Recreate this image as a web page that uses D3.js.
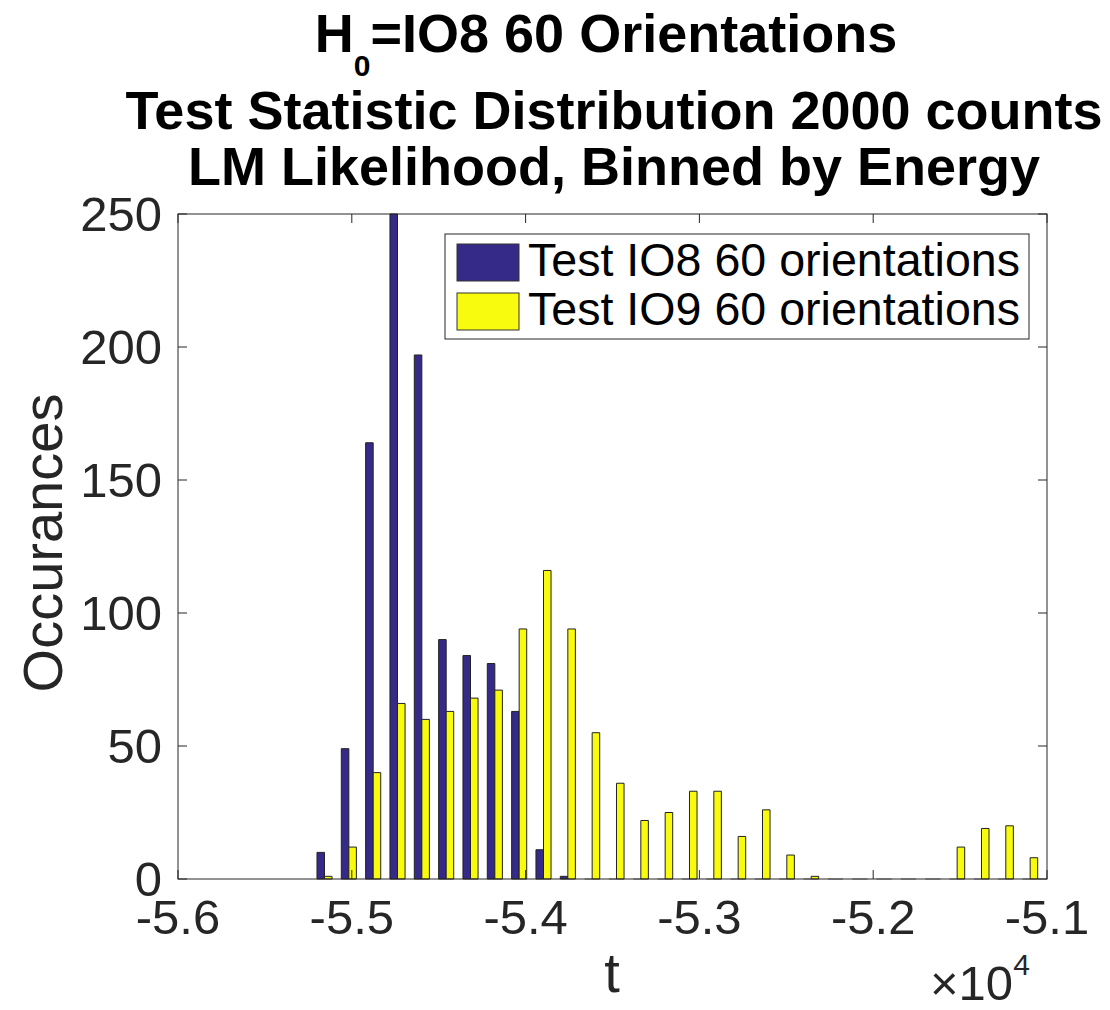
<!DOCTYPE html>
<html>
<head>
<meta charset="utf-8">
<script src="https://cdn.jsdelivr.net/npm/d3@7"></script>
<style>
  html, body { margin: 0; padding: 0; background: #fff; }
  svg { display: block; font-family: "Liberation Sans", Arial, Helvetica, sans-serif; }
</style>
</head>
<body>
<svg id="chart" width="1110" height="1010"></svg>
<script>
// Histogram bin centres (t, in units of 1e4)
const binCenters = [
  -5.5157, -5.5017, -5.4877, -5.4737, -5.4597, -5.4457, -5.4317, -5.4177, -5.4037, -5.3897,
  -5.3757, -5.3617, -5.3477, -5.3337, -5.3197, -5.3057, -5.2917, -5.2777, -5.2637, -5.2497,
  -5.2357, -5.2217, -5.2077, -5.1937, -5.1797, -5.1657, -5.1517, -5.1377, -5.1237, -5.1097
];
// Counts per bin, IO8 test orientations
const countsIO8 = [
  10, 49, 164, 250, 197, 90, 84, 81, 63, 11,
  1, 0, 0, 0, 0, 0, 0, 0, 0, 0,
  0, 0, 0, 0, 0, 0, 0, 0, 0, 0
];
// Counts per bin, IO9 test orientations
const countsIO9 = [
  1, 12, 40, 66, 60, 63, 68, 71, 94, 116,
  94, 55, 36, 22, 25, 33, 33, 16, 26, 9,
  1, 0, 0, 0, 0, 0, 12, 19, 20, 8
];
const seriesNames = ["Test IO8 60 orientations", "Test IO9 60 orientations"];
const seriesColors = ["#352a87", "#f9fb0e"];
const xTicks = [-5.6, -5.5, -5.4, -5.3, -5.2, -5.1];
const yTicks = [0, 50, 100, 150, 200, 250];
const titleLines = ["Test Statistic Distribution 2000 counts", "LM Likelihood, Binned by Energy"];

const svg = d3.select("#chart");
const m = { left: 178, right: 1047, top: 214, bottom: 879 };
const axisColor = "#262626";

const x = d3.scaleLinear().domain([-5.6, -5.1]).range([m.left, m.right]);
const y = d3.scaleLinear().domain([0, 250]).range([m.bottom, m.top]);

// Bars: each bin holds two side-by-side bars
const step = x(binCenters[1]) - x(binCenters[0]);
const barW = step * 0.31;
const series = [countsIO8, countsIO9];
const barsG = svg.append("g");
series.forEach((vals, si) => {
  barsG.selectAll(null)
    .data(binCenters.map((c, i) => ({ c, v: vals[i] })))
    .enter().append("path")
    .attr("d", d => {
      const x0 = si === 0 ? x(d.c) - barW : x(d.c);
      const x1 = x0 + barW;
      const y0 = y(0), y1 = y(d.v);
      return `M${x0},${y0}V${y1}H${x1}V${y0}Z`;
    })
    .attr("fill", seriesColors[si])
    .attr("stroke", d => d.v === 0 ? "#a0a0a0" : "#222")
    .attr("stroke-width", 1);
});

// Axes box
svg.append("rect")
  .attr("x", m.left).attr("y", m.top)
  .attr("width", m.right - m.left).attr("height", m.bottom - m.top)
  .attr("fill", "none").attr("stroke", axisColor).attr("stroke-width", 1);

const tickLen = 9;
const ticksG = svg.append("g").attr("stroke", axisColor).attr("stroke-width", 1);
xTicks.forEach(t => {
  ticksG.append("line").attr("x1", x(t)).attr("x2", x(t)).attr("y1", m.bottom).attr("y2", m.bottom - tickLen);
  ticksG.append("line").attr("x1", x(t)).attr("x2", x(t)).attr("y1", m.top).attr("y2", m.top + tickLen);
});
yTicks.forEach(t => {
  ticksG.append("line").attr("x1", m.left).attr("x2", m.left + tickLen).attr("y1", y(t)).attr("y2", y(t));
  ticksG.append("line").attr("x1", m.right).attr("x2", m.right - tickLen).attr("y1", y(t)).attr("y2", y(t));
});

// Tick labels
svg.append("g").selectAll("text").data(xTicks).enter().append("text")
  .attr("x", d => x(d)).attr("y", 934)
  .attr("text-anchor", "middle").attr("font-size", 49).attr("fill", axisColor)
  .text(d => d3.format(".1f")(d).replace("−", "-"));
svg.append("g").selectAll("text").data(yTicks).enter().append("text")
  .attr("x", m.left - 16).attr("y", d => y(d)).attr("dy", "0.35em")
  .attr("text-anchor", "end").attr("font-size", 49).attr("fill", axisColor)
  .text(d => d);

// Exponent multiplier
const mult = svg.append("text").attr("x", 930).attr("y", 1000)
  .attr("font-size", 49).attr("fill", axisColor);
mult.append("tspan").text("×10");
mult.append("tspan").attr("font-size", 30).attr("dy", -25).text("4");

// Axis labels
svg.append("text").attr("x", 612).attr("y", 992)
  .attr("text-anchor", "middle").attr("font-size", 56).attr("fill", axisColor).text("t");
svg.append("text").attr("transform", "translate(62,543) rotate(-90)")
  .attr("text-anchor", "middle").attr("font-size", 56).attr("fill", axisColor).text("Occurances");

// Title
const t1 = svg.append("text").attr("x", 606).attr("y", 52)
  .attr("text-anchor", "middle").attr("font-size", 54).attr("font-weight", "bold").attr("fill", "#000");
t1.append("tspan").text("H");
t1.append("tspan").attr("font-size", 30).attr("dy", 24).text("0");
t1.append("tspan").attr("dy", -24).text("=IO8 60 Orientations");
titleLines.forEach((line, i) => {
  svg.append("text").attr("x", 614).attr("y", 129 + i * 56)
    .attr("text-anchor", "middle").attr("font-size", 54).attr("font-weight", "bold")
    .attr("fill", "#000").text(line);
});

// Legend
const lg = svg.append("g");
lg.append("rect").attr("x", 445).attr("y", 234).attr("width", 584).attr("height", 105)
  .attr("fill", "#fff").attr("stroke", axisColor).attr("stroke-width", 1);
seriesNames.forEach((name, i) => {
  const yy = 244 + i * 49;
  lg.append("rect").attr("x", 457).attr("y", yy).attr("width", 62).attr("height", 37)
    .attr("fill", seriesColors[i]).attr("stroke", "#333").attr("stroke-width", 1);
  lg.append("text").attr("x", 528).attr("y", yy + 32)
    .attr("font-size", 46).attr("fill", "#000")
    .attr("textLength", 492).attr("lengthAdjust", "spacingAndGlyphs").text(name);
});
</script>
</body>
</html>
